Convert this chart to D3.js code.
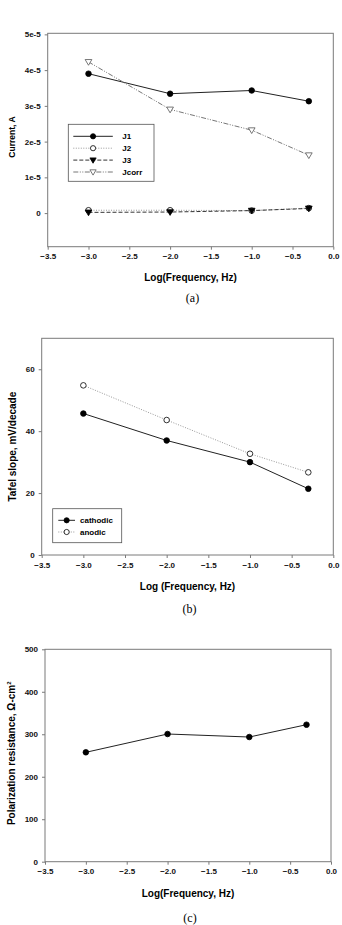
<!DOCTYPE html>
<html>
<head>
<meta charset="utf-8">
<script src="https://cdnjs.cloudflare.com/ajax/libs/d3/7.8.5/d3.min.js"></script>
<style>
  body { margin: 0; background: #fff; }
  text { font-family: "Liberation Sans", Arial, sans-serif; }
</style>
</head>
<body>
<svg width="342" height="925"></svg>
<script>
// data
var freq = [-3.0, -2.0, -1.0, -0.3];
var xTicks = [-3.5, -3.0, -2.5, -2.0, -1.5, -1.0, -0.5, 0.0];

var j1 = [3.90e-5, 3.34e-5, 3.43e-5, 3.13e-5];
var j2 = [0.08e-5, 0.08e-5, 0.07e-5, 0.14e-5];
var j3 = [0.02e-5, 0.03e-5, 0.07e-5, 0.13e-5];
var jcorr = [4.23e-5, 2.90e-5, 2.32e-5, 1.62e-5];
var currentTicks = [0, 1e-5, 2e-5, 3e-5, 4e-5, 5e-5];
var currentTickLabels = ["0", "1e-5", "2e-5", "3e-5", "4e-5", "5e-5"];

var cathodic = [45.7, 37.0, 30.0, 21.4];
var anodic = [54.8, 43.6, 32.7, 26.7];
var tafelTicks = [0, 20, 40, 60];

var rp = [257.5, 300.6, 293.5, 322.5];
var rpTicks = [0, 100, 200, 300, 400, 500];

var svg = d3.select("svg");

var marker = function(g, type, x, y, r) {
  if (type == "dot" || type == "circle") {
    g.append("circle")
      .attr("cx", x).attr("cy", y).attr("r", r)
      .attr("fill", type == "dot" ? "#000" : "#fff")
      .attr("stroke", "#000").attr("stroke-width", 0.8);
  } else {
    var s = r * 1.2;
    var pts = [[x - s, y - s * 0.7], [x + s, y - s * 0.7], [x, y + s]];
    g.append("polygon")
      .attr("points", pts.map(function(p){ return p.join(","); }).join(" "))
      .attr("fill", type == "tri" ? "#000" : "#fff")
      .attr("stroke", type == "tri" ? "#000" : "#555").attr("stroke-width", 0.8);
  }
};

var panel = function(o) {
  var x = d3.scaleLinear().domain([-3.5, 0]).range([o.left, o.right]);
  var y = d3.scaleLinear().domain(o.ydomain).range([o.bottom, o.top]);
  var g = svg.append("g");

  g.append("rect")
    .attr("x", o.left).attr("y", o.top)
    .attr("width", o.right - o.left).attr("height", o.bottom - o.top)
    .attr("fill", "none").attr("stroke", "#7a7a7a").attr("stroke-width", 1);

  var xa = g.append("g")
    .attr("transform", "translate(0," + o.bottom + ")")
    .call(d3.axisBottom(x).tickValues(xTicks).tickSize(3).tickPadding(4)
      .tickFormat(d3.format(".1f")));
  var ya = g.append("g")
    .attr("transform", "translate(" + o.left + ",0)")
    .call(d3.axisLeft(y).tickValues(o.yticks).tickSize(3).tickPadding(4)
      .tickFormat(function(d, i){ return o.ylabels ? o.ylabels[i] : d; }));
  [xa, ya].forEach(function(a) {
    a.select(".domain").remove();
    a.selectAll("line").attr("stroke", "#7a7a7a");
    a.selectAll("text").attr("font-size", 8).attr("font-weight", "bold")
      .attr("fill", "#111").style("font-family", "'Liberation Sans', Arial, sans-serif");
  });

  o.series.forEach(function(s) {
    var line = d3.line()
      .x(function(d, i){ return x(freq[i]); })
      .y(function(d){ return y(d); });
    g.append("path")
      .attr("d", line(s.values))
      .attr("fill", "none")
      .attr("stroke", s.color)
      .attr("stroke-width", s.width || 1)
      .attr("stroke-dasharray", s.dash || null);
    s.values.forEach(function(v, i) {
      marker(g, s.marker, x(freq[i]), y(v), 2.8);
    });
  });

  g.append("text")
    .attr("x", (o.left + o.right) / 2).attr("y", o.xtitleY)
    .attr("text-anchor", "middle").attr("font-size", 10).attr("font-weight", "bold")
    .text(o.xtitle);

  var yt = g.append("text")
    .attr("transform", "translate(" + o.ytitleX + "," + o.ytitleY + ") rotate(-90)")
    .attr("text-anchor", "middle").attr("font-size", o.ytitleSize || 10).attr("font-weight", "bold");
  yt.append("tspan").text(o.ytitle);
  if (o.ysup) {
    yt.append("tspan").attr("font-size", 6).attr("dy", -4).text(o.ysup);
  }

  g.append("text")
    .attr("x", (o.left + o.right) / 2 + 2).attr("y", o.capY)
    .attr("text-anchor", "middle").attr("font-size", 12)
    .style("font-family", "'Liberation Serif', 'Times New Roman', serif")
    .text(o.caption);

  if (o.legend) {
    var L = o.legend;
    g.append("rect")
      .attr("x", L.x).attr("y", L.y).attr("width", L.w).attr("height", L.h)
      .attr("fill", "#fff").attr("stroke", "#555").attr("stroke-width", 0.8);
    o.series.forEach(function(s, i) {
      var yy = L.y + L.first + i * L.step;
      g.append("line")
        .attr("x1", L.x + L.l0).attr("x2", L.x + L.l1)
        .attr("y1", yy).attr("y2", yy)
        .attr("stroke", s.color).attr("stroke-width", s.width || 1)
        .attr("stroke-dasharray", s.dash || null);
      marker(g, s.marker, L.x + (L.l0 + L.l1) / 2, yy, 2.6);
      g.append("text")
        .attr("x", L.x + L.tx).attr("y", yy + 3)
        .attr("font-size", 8).attr("font-weight", "bold")
        .text(s.name);
    });
  }
};

panel({
  left: 47.7, right: 333.3, top: 33.3, bottom: 246.7,
  ydomain: [-0.94e-5, 5.03e-5], yticks: currentTicks, ylabels: currentTickLabels,
  xtitle: "Log(Frequency, Hz)", xtitleY: 280.5,
  ytitle: "Current, A", ytitleX: 14.5, ytitleY: 137, ytitleSize: 8.5,
  caption: "(a)", capY: 302,
  series: [
    {name: "J1", values: j1, marker: "dot", color: "#222"},
    {name: "J2", values: j2, marker: "circle", color: "#999", dash: "1,1.5"},
    {name: "J3", values: j3, marker: "tri", color: "#333", dash: "4,2"},
    {name: "Jcorr", values: jcorr, marker: "tri-open", color: "#777", dash: "5,1.5,1,1.5,1,1.5"}
  ],
  legend: {x: 68.3, y: 124.3, w: 85.7, h: 57, first: 12, step: 11.9, l0: 5, l1: 44.5, tx: 54}
});

panel({
  left: 41.7, right: 333.3, top: 338.3, bottom: 555,
  ydomain: [0, 70], yticks: tafelTicks,
  xtitle: "Log (Frequency, Hz)", xtitleY: 590,
  ytitle: "Tafel slope, mV/decade", ytitleX: 15.5, ytitleY: 446.7,
  caption: "(b)", capY: 612.5,
  series: [
    {name: "cathodic", values: cathodic, marker: "dot", color: "#222"},
    {name: "anodic", values: anodic, marker: "circle", color: "#999", dash: "1,1.5"}
  ],
  legend: {x: 52.7, y: 508.7, w: 69, h: 34, first: 11.6, step: 11.7, l0: 5.6, l1: 22.3, tx: 27.3}
});

panel({
  left: 45, right: 331, top: 649.3, bottom: 861.7,
  ydomain: [0, 500], yticks: rpTicks,
  xtitle: "Log(Frequency, Hz)", xtitleY: 897,
  ytitle: "Polarization resistance, \u03a9-cm", ysup: "2", ytitleX: 14.5, ytitleY: 753.3,
  caption: "(c)", capY: 922,
  series: [
    {name: "Rp", values: rp, marker: "dot", color: "#222"}
  ]
});
</script>
</body>
</html>
